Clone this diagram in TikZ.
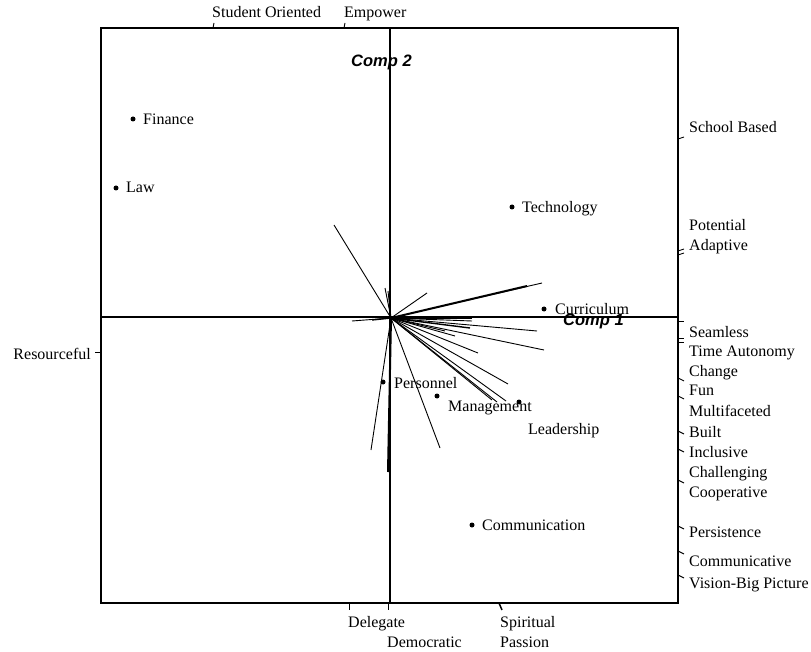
\documentclass[tikz,border=0pt]{standalone}
\usepackage{fontspec}
\setmainfont{Liberation Serif}
\newfontfamily\compfont{Liberation Sans}
\begin{document}
\begin{tikzpicture}[x=1pt,y=-1pt,
  lbl/.style={anchor=base west, inner sep=0pt, font=\fontsize{16}{19}\selectfont},
  dotpt/.style={circle, fill=black, inner sep=0pt, minimum size=5pt},
  vec/.style={line width=0.9pt},
  vecthick/.style={line width=2pt},
  tickmark/.style={line width=0.9pt},
  boxline/.style={line width=1.3pt},
  comp/.style={anchor=base west, inner sep=0pt, font=\compfont\bfseries\itshape\fontsize{16.5}{19}\selectfont}]

\useasboundingbox (0,0) rectangle (811,652);
\fill[white] (0,0) rectangle (811,652);

% plot frame and the two component axes
\draw[boxline] (101,28) rectangle (678,603);
\coordinate (xl) at (101,317);
\coordinate (xr) at (678,317);
\coordinate (yt) at (390,28);
\coordinate (yb) at (390,603);
\draw[boxline] (xl) -- (xr);
\draw[boxline] (yt) -- (yb);

\node[comp] (c2) at (351,67) {Comp 2};
\node[comp] (c1) at (563,325) {Comp 1};

% variable loading vectors from the origin
\coordinate (O) at (391,318);
\coordinate (va) at (334,225);
\coordinate (vb) at (385,288);
\coordinate (vc) at (388,291);
\coordinate (vd) at (427,293);
\coordinate (ve) at (542,283);
\coordinate (vf) at (352,321);
\coordinate (vg) at (472,318);
\coordinate (vh) at (472,321);
\coordinate (vi) at (537,331);
\coordinate (vj) at (544,350);
\coordinate (vk) at (478,353);
\coordinate (vl) at (508,384);
\coordinate (vm) at (506,401);
\coordinate (vn) at (492,400);
\coordinate (vo) at (497,402);
\coordinate (vp) at (440,448);
\coordinate (vq) at (371,450);
\coordinate (vr) at (455,336);
\coordinate (vs) at (445,331);
\foreach \vname in {va,vb,vc,vd,ve,vf,vg,vh,vi,vj,vk,vl,vm,vn,vo,vp,vq,vr,vs}
  \draw[vec] (O) -- (\vname);
\coordinate (te) at (527,286);
\coordinate (ti) at (470,328);
\coordinate (tv) at (388,472);
\coordinate (tf) at (372,320);
\draw[vecthick] (O) -- (te);
\draw[line width=1.4pt] (O) -- (ti);
\draw[vecthick] (O) -- (tv);
\draw[line width=1.4pt] (O) -- (tf);

% object scores
\node[dotpt] (finance) at (133,119) {};
\node[lbl] (financeL) at (143,125) {Finance};
\node[dotpt] (law) at (116,188) {};
\node[lbl] (lawL) at (126,193) {Law};
\node[dotpt] (tech) at (512,207) {};
\node[lbl] (techL) at (522,213) {Technology};
\node[dotpt] (curr) at (544,309) {};
\node[lbl] (currL) at (555,315) {Curriculum};
\node[dotpt] (pers) at (383,382) {};
\node[lbl] (persL) at (394,388) {Personnel};
\node[dotpt] (mgmt) at (437,396) {};
\node[lbl] (mgmtL) at (448,411) {Management};
\node[dotpt] (lead) at (519,402) {};
\node[lbl] (leadL) at (528,434) {Leadership};
\node[dotpt] (comm) at (472,525) {};
\node[lbl] (commL) at (482,530) {Communication};

% variable labels around the frame
\node[lbl] (so) at (212,18) {Student Oriented};
\node[lbl] (emp) at (344,18) {Empower};
\draw[tickmark] (213,28) -- (214,23);
\draw[tickmark] (344,28) -- (345,23);

\node[lbl, anchor=base east] (res) at (91,359) {Resourceful};
\draw[tickmark] (101,352) -- (95,352);

\node[lbl] (del) at (348,627) {Delegate};
\node[lbl] (demo) at (387,647) {Democratic};
\node[lbl] (spir) at (500,627) {Spiritual};
\node[lbl] (pass) at (500,647) {Passion};
\draw[tickmark] (349,603) -- (349,610);
\draw[tickmark] (388,603) -- (388,610);
\draw[line width=1.5pt] (499,603) -- (502,610);

\node[lbl] (r1) at (689,133) {School Based};
\node[lbl] (r2) at (689,231) {Potential};
\node[lbl] (r3) at (689,251) {Adaptive};
\node[lbl] (r4) at (689,337) {Seamless};
\node[lbl] (r5) at (689,356) {Time Autonomy};
\node[lbl] (r6) at (689,376) {Change};
\node[lbl] (r7) at (689,395) {Fun};
\node[lbl] (r8) at (689,416) {Multifaceted};
\node[lbl] (r9) at (689,437) {Built};
\node[lbl] (r10) at (689,457) {Inclusive};
\node[lbl] (r11) at (689,477) {Challenging};
\node[lbl] (r12) at (689,497) {Cooperative};
\node[lbl] (r13) at (689,537) {Persistence};
\node[lbl] (r14) at (689,566) {Communicative};
\node[lbl] (r15) at (689,588) {Vision-Big Picture};

\foreach \ty/\tdy in {139/-2, 251/-2, 255/-2, 321/0, 338/0, 342/0, 378/3, 396/3,
                      431/3, 449/3, 480/3, 526/3, 551/3, 575/3}
  \draw[tickmark] (678,\ty) -- ++(6,\tdy);
\end{tikzpicture}
\end{document}
